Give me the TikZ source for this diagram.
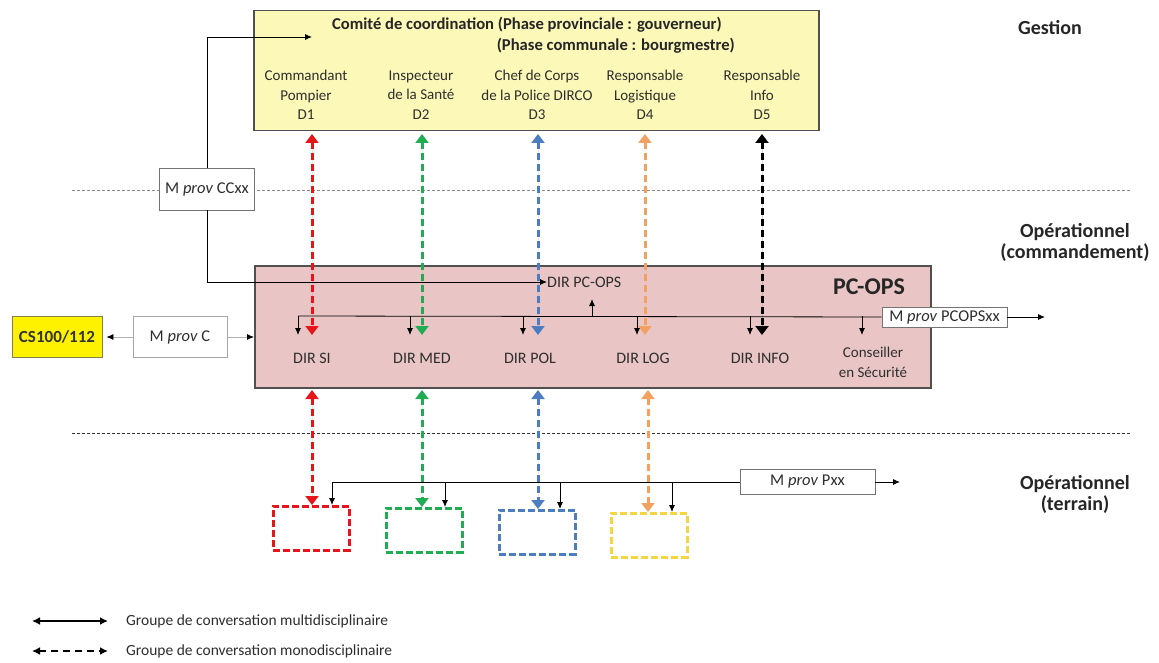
\documentclass[tikz,border=0pt]{standalone}
\usepackage{fontspec}
\setmainfont{Carlito}
\usetikzlibrary{arrows.meta}
\definecolor{ccfill}{HTML}{FBF8B8}
\definecolor{pcfill}{HTML}{E9C6C5}
\definecolor{cred}{HTML}{E8141B}
\definecolor{cgreen}{HTML}{20AD52}
\definecolor{cblue}{HTML}{4C7DC1}
\definecolor{corange}{HTML}{F3A160}
\definecolor{cyel}{HTML}{F6D540}
\definecolor{boxgray}{HTML}{505050}
\definecolor{txtgray}{HTML}{2E2E2E}
\begin{document}
\begin{tikzpicture}[x=1pt,y=-1pt,
  lab/.style={font=\fontsize{15}{19.5}\selectfont, align=center, text=txtgray, inner sep=0pt},
  dirlab/.style={font=\fontsize{16}{20}\selectfont, align=center, text=txtgray, inner sep=0pt},
  boldlab/.style={font=\fontsize{20}{21}\selectfont\bfseries, align=center, text=black!85, inner sep=0pt},
  msgbox/.style={draw=black!55, fill=white, line width=0.8pt, inner sep=0pt, font=\fontsize{16.5}{18}\selectfont, text=txtgray},
  multi/.style={line width=0.9pt, -{Latex[length=7pt,width=6pt]}},
  mono/.style={line width=3pt, dash pattern=on 7pt off 4pt, {Triangle[width=13pt,length=9pt]}-{Triangle[width=13pt,length=9pt]}},
  fieldbox/.style={line width=2.8pt, dash pattern=on 7pt off 3pt, minimum width=76pt, minimum height=44pt, anchor=north west, inner sep=0pt}
]
\useasboundingbox[fill=white] (0,0) rectangle (1159,663);

% separators
\draw[black!45, line width=0.8pt, dash pattern=on 3pt off 2pt] (72,190) -- (1130,190);
\draw[black!80, line width=0.9pt, dash pattern=on 3pt off 2pt] (72,433) -- (1130,433);

% level labels
\node[boldlab] (gest) at (1050,28) {Gestion};
\node[boldlab] (opc) at (1075,242) {Opérationnel\\(commandement)};
\node[boldlab] (opt) at (1075,494) {Opérationnel\\(terrain)};

% coordination committee
\node[draw=boxgray, fill=ccfill, line width=1.5pt, minimum width=565pt, minimum height=120pt, anchor=north west, inner sep=0pt] (cc) at (253,10) {};
\node[font=\fontsize{16.6}{20}\selectfont\bfseries, text=black!85, inner sep=0pt, anchor=west] (t1) at (332,25) {Comité de coordination (Phase provinciale : gouverneur)};
\node[font=\fontsize{16.6}{20}\selectfont\bfseries, text=black!85, inner sep=0pt, anchor=east] (t2) at (735,46) {(Phase communale : bourgmestre)};
\node[lab] (d1) at (306,95) {Commandant\\Pompier\\D1};
\node[lab] (d2) at (421,95) {Inspecteur\\de la Santé\\D2};
\node[lab] (d3) at (537,95) {Chef de Corps\\de la Police DIRCO\\D3};
\node[lab] (d4) at (645,95) {Responsable\\Logistique\\D4};
\node[lab] (d5) at (762,95) {Responsable\\Info\\D5};

% PC-OPS
\node[draw=boxgray, fill=pcfill, line width=1.5pt, minimum width=676pt, minimum height=122pt, anchor=north west, inner sep=0pt] (pc) at (254,265) {};
\node[font=\fontsize{24}{26}\selectfont\bfseries, text=black!85, inner sep=0pt] (pctitle) at (869,287) {PC-OPS};
\node[dirlab] (dsi) at (312,358) {DIR SI};
\node[dirlab] (dmed) at (422,358) {DIR MED};
\node[dirlab] (dpol) at (530,358) {DIR POL};
\node[dirlab] (dlog) at (643,358) {DIR LOG};
\node[dirlab] (dinfo) at (760,358) {DIR INFO};
\node[lab, font=\fontsize{15}{20}\selectfont] (cons) at (873,362) {Conseiller\\en Sécurité};
\node[dirlab, anchor=west] (dpc) at (547,282) {DIR PC-OPS};

% M prov CCxx
\node[msgbox, minimum width=95pt, minimum height=42pt] (ccxx) at (207,189) {M \textit{prov} CCxx};
\coordinate (ccin) at (312,37);
\draw[multi] (ccxx.north) |- (ccin);
\draw[multi] (ccxx.south) |- (dpc.west);

% PC-OPS bus
\node[msgbox, minimum width=125pt, minimum height=20pt] (pcops) at (944.5,317) {M \textit{prov} PCOPSxx};
\coordinate (busl) at (298,316);
\coordinate (pcout) at (1045,317);
\draw[line width=0.8pt] (busl) -- (pcops.west);
\draw[multi] (pcops.east) -- (pcout);
\foreach \x/\n in {298/a,410/b,523/c,637/d,750/e,862/f}{
  \coordinate (bt\n) at (\x,316);
  \coordinate (bb\n) at (\x,335);
  \draw[multi] (bt\n) -- (bb\n);
}
\coordinate (upb) at (592,316);
\coordinate (upt) at (592,299);
\draw[multi] (upb) -- (upt);

% CS100 and M prov C
\node[draw=black!55!yellow, fill=yellow, line width=0.8pt, minimum width=90pt, minimum height=41pt, font=\fontsize{17}{18}\selectfont\bfseries, text=black!80, inner sep=0pt] (cs) at (57,337) {CS100/112};
\node[msgbox, draw=black!35, minimum width=94pt, minimum height=41pt] (mpc) at (180,337) {M \textit{prov} C};
\draw[black!30, line width=0.8pt, -{Latex[length=7pt,width=6pt,black]}] (mpc.west) -- ([xshift=4pt]cs.east);
\draw[black!30, line width=0.8pt, -{Latex[length=7pt,width=6pt,black]}] (mpc.east) -- (pc.west |- mpc.east);

% mono-disciplinary links, committee to PC-OPS
\foreach \x/\c in {312/cred,422/cgreen,538/cblue,645/corange,762/black}{
  \coordinate (mt\x) at (\x,134);
  \coordinate (mb\x) at (\x,335);
  \draw[mono, draw=\c, fill=\c] (mt\x) -- (mb\x);
}

% field level
\node[fieldbox, draw=cred] (f1) at (272,505) {};
\node[fieldbox, draw=cgreen] (f2) at (385,507) {};
\node[fieldbox, draw=cblue] (f3) at (498,509) {};
\node[fieldbox, draw=cyel] (f4) at (610,512) {};

\foreach \x/\c/\f in {312/cred/f1,422/cgreen/f2,538/cblue/f3,648/corange/f4}{
  \coordinate (lt\x) at (\x,390);
  \draw[mono, draw=\c, fill=\c] (lt\x) -- (\x,0 |- \f.north);
}

\node[msgbox, minimum width=135pt, minimum height=25pt] (pxx) at (807.5,482) {M \textit{prov} Pxx};
\coordinate (tbus) at (332,482);
\coordinate (tout) at (900,482);
\draw[line width=0.8pt] (tbus) -- (pxx.west);
\draw[multi] (pxx.east) -- (tout);
\foreach \x/\f in {332/f1,445/f2,560/f3,672/f4}{
  \coordinate (tt\x) at (\x,482);
  \draw[multi] (tt\x) -- (\x,0 |- \f.north);
}

% legend
\coordinate (l1a) at (32,621);
\coordinate (l1b) at (108,621);
\coordinate (l2a) at (32,651);
\coordinate (l2b) at (108,651);
\draw[line width=1.8pt, {Latex[length=8pt,width=8pt]}-{Latex[length=8pt,width=8pt]}] (l1a) -- (l1b);
\draw[line width=1.8pt, dash pattern=on 7pt off 5pt, {Latex[length=8pt,width=8pt]}-{Latex[length=8pt,width=8pt]}] (l2a) -- (l2b);
\node[lab, font=\fontsize{15.5}{17}\selectfont, anchor=west] (lg1) at (126,621) {Groupe de conversation multidisciplinaire};
\node[lab, font=\fontsize{15.5}{17}\selectfont, anchor=west] (lg2) at (126,651) {Groupe de conversation monodisciplinaire};
\end{tikzpicture}
\end{document}
